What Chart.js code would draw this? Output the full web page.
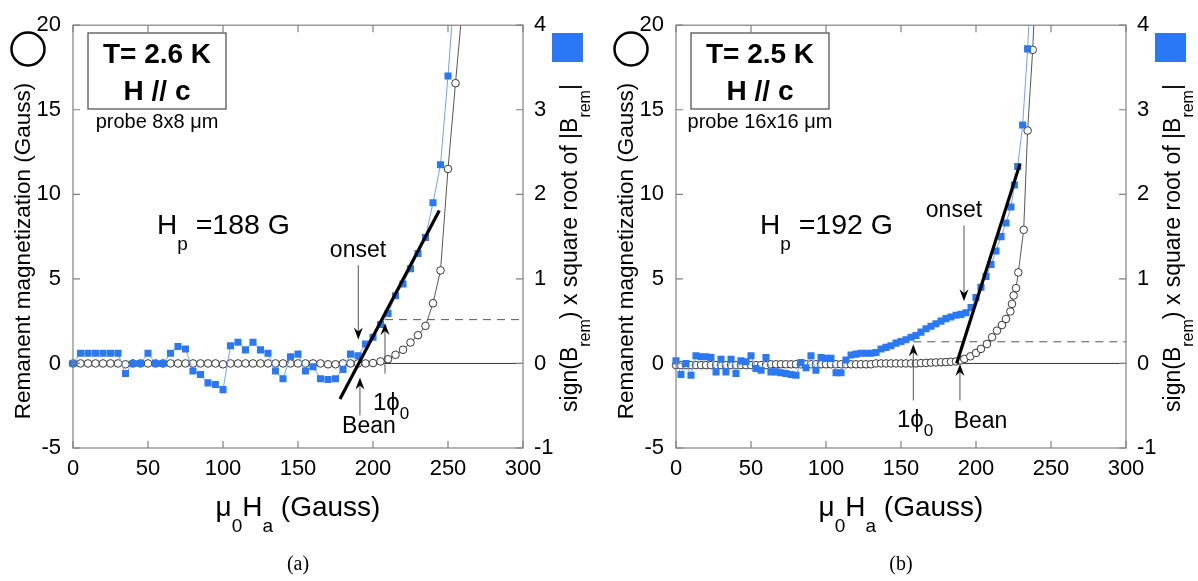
<!DOCTYPE html>
<html><head><meta charset="utf-8">
<script src="https://cdn.jsdelivr.net/npm/chart.js@4.4.1/dist/chart.umd.min.js"></script>
<style>
html,body{margin:0;padding:0;background:#fff;overflow:hidden}
canvas{position:absolute;top:0}
#a{left:0}#b{left:600px}
</style></head>
<body>
<canvas id="a" width="600" height="581"></canvas>
<canvas id="b" width="598" height="581"></canvas>
<script>
const FAM = '"Liberation Sans", Arial, Helvetica, sans-serif';
const SERIF = '"Liberation Serif", "DejaVu Serif", serif';

// ticks
const xTicks = [0, 50, 100, 150, 200, 250, 300];
const yTicksLeft = [-5, 0, 5, 10, 15, 20];
const yTicksRight = [-1, 0, 1, 2, 3, 4];

// ---------- panel (a) ----------
const fieldSqA = [0,5,10,15,20,25,30,35,40,45,50,55,60,65,70,75,80,85,90,95,100,105,110,115,120,125,130,135,140,145,150,155,160,165,170,175,180,185,190,195,200,205,210,215,220,225,230,235,240,245,250,255];
const sqrtA = [0,0.12,0.12,0.12,0.12,0.12,0.12,-0.12,0,0,
  0.12,0,0,0.12,0.2,0.17,-0.09,-0.13,-0.23,-0.25,
  -0.31,0.21,0.25,0.16,0.25,0.16,0.12,-0.09,-0.18,0.08,
  0.11,-0.09,-0.04,-0.18,-0.19,-0.18,-0.07,0.11,0.09,0.23,
  0.31,0.46,0.59,0.8,0.94,1.12,1.3,1.49,1.9,2.35,
  3.4,4.6];
const fieldCircA = [0,5,10,15,20,25,30,35,40,45,50,55,60,65,70,75,80,85,90,95,100,105,110,115,120,125,130,135,140,145,150,155,160,165,170,175,180,185,190,195,200,205,210,215,220,225,230,235,240,245,250,255,260];
const bremA = [0,0,0,0,0,0,0,-0.05,0,0,
  0,0,0,0,0,0,0,0,0,0,
  -0.05,0,0,0,0,0,0,0,0,0,
  0,0,0,0,-0.05,-0.05,0,0,0,0,
  0.02,0.12,0.25,0.51,0.81,1.24,1.67,2.22,3.56,5.5,11.5,16.57,21.5];
const fitFieldA = [178, 244.2];
const fitSqrtA = [-0.42, 1.81];
const dashFieldA = [208, 300];
const dashBremA = [2.59, 2.59];

// ---------- panel (b) ----------
const fieldSqB = [0,3.3,6.7,10,13.3,16.7,20,23.3,26.7,30,33.3,36.7,40,43.3,46.7,50,53.3,56.7,60,63.3,66.7,70,73.3,76.7,80,83.3,86.7,90,93.3,96.7,100,103.3,106.7,110,113.3,116.7,120,123.3,126.7,130,133.3,136.7,140,143.3,146.7,150,153.3,156.7,160,163.3,166.7,170,173.3,176.7,180,183.3,186.7,190,193.3,196.7,200,203.3,206.7,210,213.3,216.7,220,223.3,225.6,227.8,231.1,234.4,237.5];
const sqrtB = [0.03,-0.13,0.0,-0.14,0.09,0.08,0.08,0.07,-0.1,0.05,
  -0.1,0.05,-0.12,0.03,0.02,0.09,-0.06,-0.08,0.07,-0.1,
  -0.1,-0.11,-0.12,-0.13,-0.14,0.01,-0.05,0.09,-0.08,0.07,
  0.06,0.06,-0.11,-0.11,0.04,0.1,0.11,0.12,0.12,0.12,
  0.13,0.17,0.19,0.21,0.24,0.26,0.28,0.31,0.33,0.37,
  0.41,0.44,0.47,0.5,0.53,0.55,0.57,0.58,
  0.6,0.66,0.78,0.9,1.03,1.17,1.33,1.5,1.66,1.85,2.11,2.33,2.82,3.72,4.8];
const fieldCircB = [0,3.3,6.7,10,13.3,16.7,20,23.3,26.7,30,33.3,36.7,40,43.3,46.7,50,53.3,56.7,60,63.3,66.7,70,73.3,76.7,80,83.3,86.7,90,93.3,96.7,100,103.3,106.7,110,113.3,116.7,120,123.3,126.7,130,133.3,136.7,140,143.3,146.7,150,153.3,156.7,160,163.3,166.7,170,173.3,176.7,180,183.3,186.7,190,192.2,196.2,200,203.3,207.3,210.7,214,217.3,220,222.9,224,225.1,226.7,228.2,231.8,234.4,237.8,240.5];
const bremB = [-0.1,-0.1,-0.1,-0.1,-0.1,-0.1,-0.1,-0.1,-0.1,-0.1,-0.1,-0.1,-0.1,-0.1,-0.1,-0.1,-0.1,-0.1,-0.1,
  -0.05,-0.05,-0.05,-0.05,-0.05,-0.05,-0.05,-0.05,-0.05,-0.05,-0.05,-0.05,-0.05,-0.05,-0.05,-0.05,-0.05,-0.05,-0.05,-0.05,-0.05,
  0,0,0,0,0,0,0,0,0,
  0.02,0.03,0.05,0.06,0.07,0.08,0.1,0.12,
  0.18,0.27,0.42,0.62,0.86,1.15,1.55,1.94,2.27,2.63,3.07,3.52,4.02,4.45,5.38,7.9,13.77,18.54,24];
const fitFieldB = [187.1, 229.3];
const fitSqrtB = [0, 2.36];
const dashFieldB = [158.2, 300];
const dashBremB = [1.28, 1.28];

function drawParts(ctx, parts, x, y, align) {
  let w = 0;
  parts.forEach(p => { ctx.font = (p.b ? 'bold ' : '') + p.s + 'px ' + (p.f || FAM); w += ctx.measureText(p.t).width; });
  let cx = align === 'center' ? x - w / 2 : (align === 'right' ? x - w : x);
  ctx.textAlign = 'left'; ctx.textBaseline = 'alphabetic';
  parts.forEach(p => {
    ctx.font = (p.b ? 'bold ' : '') + p.s + 'px ' + (p.f || FAM);
    ctx.fillText(p.t, cx, y + (p.dy || 0));
    cx += ctx.measureText(p.t).width;
  });
}

function panelPlugin(ann) {
  return {
    id: 'panelDeco',
    afterDraw(chart) {
      const ctx = chart.ctx, a = chart.chartArea;
      const sx = chart.scales.x, sy = chart.scales.y, sr = chart.scales.y1;
      const X = v => sx.getPixelForValue(v), Y = v => sy.getPixelForValue(v);
      ctx.save();
      // frame
      ctx.strokeStyle = '#808080'; ctx.lineWidth = 1.2;
      ctx.strokeRect(a.left, a.top, a.right - a.left, a.bottom - a.top);
      const T = 7;
      ctx.beginPath();
      sx.ticks.forEach(t => { const p = X(t.value); ctx.moveTo(p, a.bottom); ctx.lineTo(p, a.bottom - T); ctx.moveTo(p, a.top); ctx.lineTo(p, a.top + T); });
      sy.ticks.forEach(t => { const p = Y(t.value); ctx.moveTo(a.left, p); ctx.lineTo(a.left + T, p); });
      sr.ticks.forEach(t => { const p = sr.getPixelForValue(t.value); ctx.moveTo(a.right, p); ctx.lineTo(a.right - T, p); });
      ctx.stroke();

      // arrows
      ann.arrows.forEach(ar => {
        const x = X(ar.x), y0 = Y(ar.from), y1 = Y(ar.to);
        const dir = Math.sign(y1 - y0);
        ctx.strokeStyle = '#555'; ctx.lineWidth = 1;
        ctx.beginPath(); ctx.moveTo(x, y0); ctx.lineTo(x, y1 - dir * 6); ctx.stroke();
        ctx.fillStyle = '#000';
        ctx.beginPath(); ctx.moveTo(x, y1); ctx.lineTo(x - 4.5, y1 - dir * 12); ctx.lineTo(x, y1 - dir * 8); ctx.lineTo(x + 4.5, y1 - dir * 12); ctx.closePath(); ctx.fill();
      });

      ctx.fillStyle = '#000';
      ann.labels.forEach(l => drawParts(ctx, l.parts, X(l.x), Y(l.y), l.align));

      // info box
      const bx = a.left + 15, by = 33, bw = 138, bh = 76;
      ctx.strokeStyle = '#555'; ctx.lineWidth = 1.3;
      ctx.strokeRect(bx, by, bw, bh);
      ctx.fillStyle = '#000';
      ctx.textAlign = 'center'; ctx.textBaseline = 'alphabetic';
      ctx.font = 'bold 28px ' + FAM;
      ctx.fillText(ann.temp, bx + bw / 2, 63);
      ctx.fillText('H // c', bx + bw / 2, 100);
      ctx.font = '20px ' + FAM;
      ctx.fillText(ann.probe, bx + bw / 2, 128);

      // legend markers
      ctx.strokeStyle = '#000'; ctx.lineWidth = 2.5;
      ctx.beginPath(); ctx.arc(a.left - 45, 49, 16.5, 0, Math.PI * 2); ctx.stroke();
      ctx.fillStyle = '#2a78f5';
      ctx.fillRect(a.right + 29, 33, 31, 29);
      ctx.fillStyle = '#000';

      // x title
      drawParts(ctx, [{t: '\u03bc', s: 28}, {t: '0', s: 19, dy: 16}, {t: 'H', s: 28}, {t: 'a', s: 19, dy: 16}, {t: ' (Gauss)', s: 28}], (a.left + a.right) / 2, 516, 'center');

      // left title
      ctx.save();
      ctx.translate(a.left - 43, 251); ctx.rotate(-Math.PI / 2);
      drawParts(ctx, [{t: 'Remanent magnetization (Gauss)', s: 22.5}], 0, 0, 'center');
      ctx.restore();

      // right title
      ctx.save();
      ctx.translate(a.right + 54, 248); ctx.rotate(-Math.PI / 2);
      drawParts(ctx, [{t: 'sign(B', s: 23}, {t: 'rem', s: 16, dy: 13}, {t: ') x square root of |B', s: 23}, {t: 'rem', s: 16, dy: 13}, {t: '|', s: 23}], 0, 0, 'center');
      ctx.restore();

      // caption
      ctx.font = '20px ' + SERIF; ctx.textAlign = 'center'; ctx.textBaseline = 'alphabetic';
      ctx.fillText(ann.caption, (a.left + a.right) / 2, 570);
      ctx.restore();
    }
  };
}

function makePanel(id, d, ann, leftW, rightW) {
  const pts = (xs, ys) => xs.map((x, i) => ({x: x, y: ys[i]}));
  const tickFont = {family: FAM, size: 22};
  const ptClip = {left: 8, top: 0, right: 0, bottom: 0};
  return new Chart(document.getElementById(id), {
    type: 'line',
    data: {datasets: [
      {data: pts([0, 300], [0, 0]), yAxisID: 'y', borderColor: '#333', borderWidth: 1, pointRadius: 0, order: 5},
      {data: pts(d.dashX, d.dashY), yAxisID: 'y', borderColor: '#555', borderWidth: 1, borderDash: [8, 6], pointRadius: 0, order: 4},
      {data: pts(d.circX, d.circY), yAxisID: 'y', borderColor: '#444', borderWidth: 0.9, pointStyle: 'circle', pointRadius: 3.8,
        pointBackgroundColor: '#fff', pointBorderColor: '#222', pointBorderWidth: 0.9, order: 3, clip: ptClip},
      {data: pts(d.sqX, d.sqY), yAxisID: 'y1', borderColor: '#6aa4ff', borderWidth: 1, pointStyle: 'rect', pointRadius: 5,
        pointBackgroundColor: '#2a78f5', pointBorderColor: '#2a78f5', pointBorderWidth: 0, order: 2, clip: ptClip},
      {data: pts(d.fitX, d.fitY), yAxisID: 'y1', borderColor: '#000', borderWidth: 3.2, pointRadius: 0, order: 1}
    ]},
    options: {
      responsive: false, animation: false, events: [],
      layout: {padding: {top: 21, left: 0, right: 0, bottom: 0}},
      plugins: {legend: {display: false}, tooltip: {enabled: false}},
      elements: {line: {tension: 0}},
      scales: {
        x: {type: 'linear', position: 'bottom', min: 0, max: 300,
          afterBuildTicks: s => { s.ticks = xTicks.map(v => ({value: v})); },
          ticks: {font: tickFont, color: '#000', padding: 8, maxRotation: 0, autoSkip: false},
          grid: {display: false, drawTicks: false}, border: {display: false},
          afterFit: s => { s.height = 133; }},
        y: {type: 'linear', position: 'left', min: -5, max: 20,
          afterBuildTicks: s => { s.ticks = yTicksLeft.map(v => ({value: v})); },
          ticks: {font: tickFont, color: '#000', padding: 12},
          grid: {display: false, drawTicks: false}, border: {display: false},
          afterFit: s => { s.width = leftW; }},
        y1: {type: 'linear', position: 'right', min: -1, max: 4,
          afterBuildTicks: s => { s.ticks = yTicksRight.map(v => ({value: v})); },
          ticks: {font: tickFont, color: '#000', padding: 11, crossAlign: 'near'},
          grid: {display: false, drawTicks: false}, border: {display: false},
          afterFit: s => { s.width = rightW; }}
      }
    },
    plugins: [panelPlugin(ann)]
  });
}

makePanel('a',
  {sqX: fieldSqA, sqY: sqrtA, circX: fieldCircA, circY: bremA, fitX: fitFieldA, fitY: fitSqrtA, dashX: dashFieldA, dashY: dashBremA},
  {temp: 'T= 2.6 K', probe: 'probe 8x8 \u03bcm', caption: '(a)',
   arrows: [{x: 190.2, from: 5.81, to: 1.42}, {x: 208, from: -0.61, to: 2.39}, {x: 191.3, from: -3.07, to: -0.83}],
   labels: [
     {x: 190, y: 6.3, align: 'center', parts: [{t: 'onset', s: 23}]},
     {x: 197.3, y: -4.12, align: 'center', parts: [{t: 'Bean', s: 23}]},
     {x: 200, y: -2.78, align: 'left', parts: [{t: '1\u03d5', s: 24}, {t: '0', s: 17, dy: 9}]},
     {x: 56, y: 7.65, align: 'left', parts: [{t: 'H', s: 28}, {t: 'p', s: 19, dy: 16}, {t: ' =188 G', s: 28.5}]}
   ]}, 73, 77);

makePanel('b',
  {sqX: fieldSqB, sqY: sqrtB, circX: fieldCircB, circY: bremB, fitX: fitFieldB, fitY: fitSqrtB, dashX: dashFieldB, dashY: dashBremB},
  {temp: 'T= 2.5 K', probe: 'probe 16x16 \u03bcm', caption: '(b)',
   arrows: [{x: 158.2, from: -2.19, to: 1.13}, {x: 189.3, from: -2.19, to: -0.04}, {x: 192, from: 8.16, to: 3.67}],
   labels: [
     {x: 185.3, y: 8.64, align: 'center', parts: [{t: 'onset', s: 23}]},
     {x: 203, y: -3.83, align: 'center', parts: [{t: 'Bean', s: 23}]},
     {x: 147.3, y: -3.77, align: 'left', parts: [{t: '1\u03d5', s: 24}, {t: '0', s: 17, dy: 9}]},
     {x: 56, y: 7.65, align: 'left', parts: [{t: 'H', s: 28}, {t: 'p', s: 19, dy: 16}, {t: ' =192 G', s: 28.5}]}
   ]}, 76, 72);
</script>
</body></html>
